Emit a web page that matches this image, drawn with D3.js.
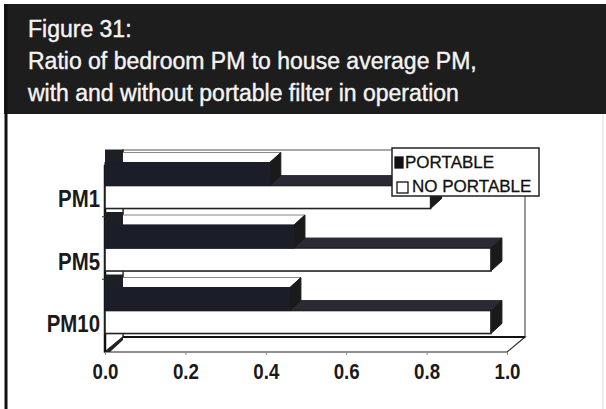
<!DOCTYPE html>
<html>
<head>
<meta charset="utf-8">
<script src="https://cdn.jsdelivr.net/npm/d3@7"></script>
<style>
  body { margin: 0; background: #fff; }
  svg { display: block; font-family: "Liberation Sans", Arial, sans-serif; }
</style>
</head>
<body>
<script>
// values
var categories = ["PM1", "PM5", "PM10"];
var series = ["PORTABLE", "NO PORTABLE"];
var portable = [0.41, 0.47, 0.46];
var noPortable = [0.81, 0.96, 0.96];
var xTicks = [0, 0.2, 0.4, 0.6, 0.8, 1.0];
var titleLines = ["Figure 31:", "Ratio of bedroom PM to house average PM,", "with and without portable filter in operation"];

var width = 606, height = 409;
var svg = d3.select("body").append("svg")
    .attr("width", width)
    .attr("height", height);

// frame + title band
svg.append("rect").attr("x", 4).attr("y", 4).attr("width", 602).attr("height", 110).attr("fill", "#1d1d1d");
svg.append("line").attr("x1", 6).attr("x2", 6).attr("y1", 4).attr("y2", 409).attr("stroke", "#111").attr("stroke-width", 3);
svg.append("line").attr("x1", 603).attr("x2", 603).attr("y1", 114).attr("y2", 409).attr("stroke", "#ddd").attr("stroke-width", 1);

svg.selectAll(".title").data(titleLines).enter()
    .append("text")
    .attr("x", 28)
    .attr("y", function(d, i) { return 37 + i * 32; })
    .attr("fill", "#f4f4f4")
    .attr("stroke", "#f4f4f4").attr("stroke-width", 0.4)
    .attr("font-size", 23)
    .text(function(d) { return d; });

// 3d chart geometry
var x = d3.scaleLinear().domain([0, 1]).range([105, 507]);
var y = d3.scaleBand().domain(categories).range([160, 352])
    .paddingInner(0.264).paddingOuter(0.168).align(0.12);
var ySub = d3.scaleBand().domain(series).range([0, y.bandwidth()]);

var wallDx = 18, wallDy = -15;   // depth of the chart box
var barDx = 11, barDy = -10;     // depth of a bar
var floorY = 352, topY = 165;

var chart = svg.append("g");

function poly(pts) { return pts.map(function(p) { return p.join(","); }).join(" "); }

// back wall
chart.append("polygon")
    .attr("points", poly([[x(0) + wallDx, topY + wallDy], [x(1) + wallDx, topY + wallDy],
                          [x(1) + wallDx, floorY + wallDy], [x(0) + wallDx, floorY + wallDy]]))
    .attr("fill", "#fff").attr("stroke", "#555").attr("stroke-width", 1.2);
// left wall
chart.append("polygon")
    .attr("points", poly([[x(0), topY], [x(0) + wallDx, topY + wallDy],
                          [x(0) + wallDx, floorY + wallDy], [x(0), floorY]]))
    .attr("fill", "#fff").attr("stroke", "#222").attr("stroke-width", 1.2);
// floor
chart.append("polygon")
    .attr("points", poly([[x(0), floorY], [x(1), floorY],
                          [x(1) + wallDx, floorY + wallDy], [x(0) + wallDx, floorY + wallDy]]))
    .attr("fill", "#fff").attr("stroke", "#333").attr("stroke-width", 1.2);
chart.append("line")
    .attr("x1", x(0) + wallDx).attr("x2", x(1) + wallDx)
    .attr("y1", floorY + wallDy).attr("y2", floorY + wallDy)
    .attr("stroke", "#111").attr("stroke-width", 2.2);
chart.append("line")
    .attr("x1", x(0)).attr("x2", x(1))
    .attr("y1", floorY).attr("y2", floorY)
    .attr("stroke", "#888").attr("stroke-width", 1.2);
chart.append("polygon")
    .attr("points", poly([[x(0), floorY], [x(0) + wallDx, floorY + wallDy], [x(0) + wallDx, floorY + wallDy + 3], [x(0) + 5, floorY]]))
    .attr("fill", "#222");
// front vertical axis
chart.append("line")
    .attr("x1", x(0)).attr("x2", x(0)).attr("y1", topY).attr("y2", floorY)
    .attr("stroke", "#111").attr("stroke-width", 2.5);

// category separator ticks
chart.selectAll(".ytick").data(categories.slice(1)).enter()
    .append("line")
    .attr("x1", x(0) - 3).attr("x2", x(0))
    .attr("y1", function(d) { return y(d) - y.step() * y.paddingInner() / 2; })
    .attr("y2", function(d) { return y(d) - y.step() * y.paddingInner() / 2; })
    .attr("stroke", "#333");

// bars
var rows = categories.map(function(c, i) {
    return { cat: c, vals: [portable[i], noPortable[i]] };
});

rows.forEach(function(r) {
    // lower bar first (NO PORTABLE) so the upper bar front hides its top face
    [1, 0].forEach(function(k) {
        var s = series[k];
        var v = r.vals[k];
        var y0 = y(r.cat) + ySub(s), h = ySub.bandwidth();
        var x0 = x(0), x1 = x(v);
        var g = chart.append("g").attr("class", "bar");
        var dark = k === 0;
        // top face
        g.append("polygon")
            .attr("points", poly([[x0, y0], [x0 + barDx, y0 + barDy], [x1 + barDx, y0 + barDy], [x1, y0]]))
            .attr("fill", dark ? "#fff" : "#2a2a36")
            .attr("stroke", dark ? "#888" : "#333").attr("stroke-width", 1);
        if (dark) {
            g.append("polygon")
                .attr("points", poly([[x0, y0], [x0, y0 + barDy - 3], [x0 + wallDx, y0 + barDy - 3], [x0 + wallDx, y0]]))
                .attr("fill", "#1c1f26");
        }
        // right face
        g.append("polygon")
            .attr("points", poly([[x1, y0], [x1 + barDx, y0 + barDy], [x1 + barDx, y0 + h + barDy], [x1, y0 + h]]))
            .attr("fill", "#1a1a1a").attr("stroke", "#1a1a1a");
        // front face
        g.append("rect")
            .attr("x", x0).attr("y", y0)
            .attr("width", x1 - x0).attr("height", h)
            .attr("fill", dark ? "#1b1d28" : "#fff")
            .attr("stroke", dark ? "#1b1d28" : "#222").attr("stroke-width", dark ? 1 : 1.6);
    });
});

// x axis
var xAxis = d3.axisBottom(x).tickValues(xTicks).tickFormat(d3.format(".1f"))
    .tickSize(3).tickPadding(8.5);
var ax = svg.append("g").attr("transform", "translate(0," + floorY + ")").call(xAxis);
ax.select(".domain").remove();
ax.selectAll(".tick line").attr("stroke", "#888");
ax.selectAll(".tick text")
    .attr("font-family", "'Liberation Sans', Arial, sans-serif")
    .attr("font-size", 22).attr("font-weight", "bold").attr("fill", "#1a1a1a")
    .attr("transform", "scale(0.85,1)");

// category labels
svg.selectAll(".cat").data(categories).enter()
    .append("text")
    .attr("transform", function(d) {
        return "translate(" + (x(0) - 5) + "," + (y(d) + ySub("NO PORTABLE") + ySub.bandwidth() * 0.6 + 8) + ") scale(0.85,1)";
    })
    .attr("text-anchor", "end")
    .attr("font-size", 24).attr("font-weight", "bold").attr("fill", "#1a1a1a")
    .text(function(d) { return d; });

// legend
var legend = svg.append("g").attr("transform", "translate(392,148)");
legend.append("rect").attr("width", 147).attr("height", 48)
    .attr("fill", "#fff").attr("stroke", "#222").attr("stroke-width", 1.5);
var li = legend.selectAll(".li").data(series).enter()
    .append("g").attr("transform", function(d, i) { return "translate(0," + (20 + i * 24) + ")"; });
li.append("rect")
    .attr("x", function(d, i) { return i ? 5 : 3; })
    .attr("y", function(d, i) { return i ? -10 : -11; })
    .attr("width", function(d, i) { return i ? 11 : 8; })
    .attr("height", 11)
    .attr("fill", function(d, i) { return i ? "#fff" : "#111"; })
    .attr("stroke", "#111").attr("stroke-width", 1.3);
li.append("text")
    .attr("x", function(d, i) { return i ? 20 : 13; })
    .attr("font-size", 17).attr("fill", "#111")
    .attr("stroke", "#111").attr("stroke-width", 0.3)
    .text(function(d) { return d; });
</script>
</body>
</html>
